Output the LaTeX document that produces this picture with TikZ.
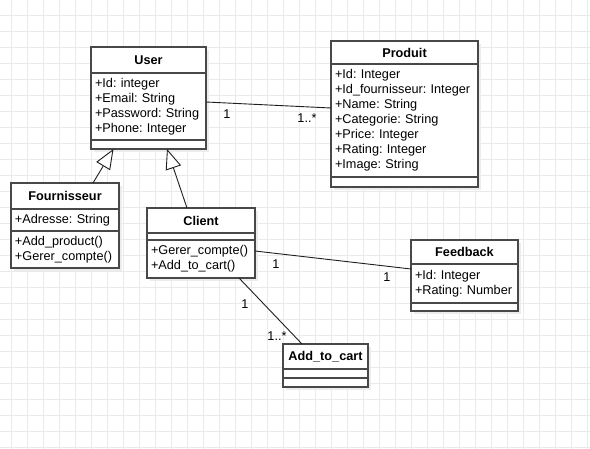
\documentclass[tikz,border=0pt]{standalone}
\usepackage{fontspec}
\setmainfont{Liberation Sans}
\usepackage{tikz}
\usetikzlibrary{
  arrows.meta,
  positioning,
  shadows
}
\definecolor{boxline}{RGB}{72, 72, 72}
\definecolor{gridcolor}{RGB}{234, 234, 234}
\definecolor{shadowcolor}{RGB}{236, 236, 236}
\definecolor{linkcolor}{RGB}{30, 30, 30}
\newcommand{\umlfont}{\fontsize{12.7}{15}\selectfont}
\newcommand{\bodyfont}{\umlfont\hyphenpenalty=10000\relax}
\frenchspacing
\tikzset{
compart/.style={
  draw=boxline,
  line width=1.2pt,
  fill=white,
  rectangle,
  inner sep=0pt,
  outer sep=0pt,
  drop shadow={shadow xshift=3pt, shadow yshift=-3pt, fill=shadowcolor, opacity=1}
},
classhead/.style={
  compart,
  minimum width=#1,
  font=\umlfont\bfseries,
  align=center
},
classbody/.style={
  compart,
  inner xsep=4pt,
  text width=#1,
  font=\bodyfont,
  align=left
},
gridline/.style={
  draw=gridcolor,
  line width=1pt
},
assoc/.style={
  draw=linkcolor,
  line width=0.9pt
},
inherit/.style={
  draw=linkcolor,
  line width=0.9pt,
  -{Triangle[length=20pt, width=16pt, fill=white]}
},
mult/.style={
  font=\umlfont,
  inner sep=0pt
}
}

\begin{document}
\begin{tikzpicture}[x=1pt, y=-1pt]
  \useasboundingbox (0,0) rectangle (590,449);

  % Background grid
  \foreach \gx in {0,...,36}
    \draw[gridline] (11.5+16*\gx,0) -- (11.5+16*\gx,449);
  \foreach \gy in {1,...,28}
    \draw[gridline] (0,16*\gy) -- (590,16*\gy);

  % User
  \node[classhead=115pt, minimum height=26pt, anchor=north] (userhead) at (148.5,47) {User};
  \node[classbody=107pt, minimum height=67pt, below=0pt of userhead] (userattr)
    {+Id: integer\\+Email: String\\+Password: String\\+Phone: Integer};
  \node[classbody=107pt, minimum height=9pt, below=0pt of userattr] (userops) {};

  % Produit
  \node[classhead=147pt, minimum height=23pt, anchor=north] (prodhead) at (404.5,41) {Produit};
  \node[classbody=139pt, minimum height=113pt, below=0pt of prodhead] (prodattr)
    {+Id: Integer\\+Id\_fournisseur: Integer\\+Name: String\\+Categorie: String\\+Price: Integer\\+Rating: Integer\\+Image: String};
  \node[classbody=139pt, minimum height=10pt, below=0pt of prodattr] (prodops) {};

  % Fournisseur
  \node[classhead=108pt, minimum height=26pt, anchor=north] (fourhead) at (65,183) {Fournisseur};
  \node[classbody=100pt, minimum height=22pt, below=0pt of fourhead] (fourattr)
    {+Adresse: String};
  \node[classbody=100pt, minimum height=37pt, below=0pt of fourattr] (fourops)
    {+Add\_product()\\+Gerer\_compte()};

  % Client
  \node[classhead=108pt, minimum height=25pt, anchor=north] (clienthead) at (201,208) {Client};
  \node[classbody=100pt, minimum height=7pt, below=0pt of clienthead] (clientattr) {};
  \node[classbody=100pt, minimum height=38pt, below=0pt of clientattr] (clientops)
    {+Gerer\_compte()\\+Add\_to\_cart()};

  % Feedback
  \node[classhead=107pt, minimum height=24pt, anchor=north] (feedhead) at (464.5,240) {Feedback};
  \node[classbody=99pt, minimum height=39pt, below=0pt of feedhead] (feedattr)
    {+Id: Integer\\+Rating: Number};
  \node[classbody=99pt, minimum height=8pt, below=0pt of feedattr] (feedops) {};

  % Add_to_cart
  \node[classhead=85pt, minimum height=25pt, anchor=north] (carthead) at (325.5,344) {Add\_to\_cart};
  \node[classbody=77pt, minimum height=9pt, below=0pt of carthead] (cartattr) {};
  \node[classbody=77pt, minimum height=9pt, below=0pt of cartattr] (cartops) {};

  % Generalization
  \draw[inherit] ([xshift=28pt]fourhead.north) -- ([xshift=-35pt]userops.south);
  \draw[inherit] ([xshift=-14pt]clienthead.north) -- ([xshift=18.5pt]userops.south);

  % Associations
  \draw[assoc] ([yshift=4.5pt]userattr.east) -- ([yshift=12.5pt]prodattr.west);
  \draw[assoc] ([yshift=8pt]clientops.east) -- ([yshift=14.5pt]feedattr.west);
  \draw[assoc] ([xshift=38pt]clientops.south) -- ([xshift=-23.5pt]carthead.north);

  % Multiplicities
  \node[mult] (m1) at (227,114) {1};
  \node[mult] (m2) at (307,118) {1..*};
  \node[mult] (m3) at (276,264) {1};
  \node[mult] (m4) at (387,277) {1};
  \node[mult] (m5) at (245,304) {1};
  \node[mult] (m6) at (277,336) {1..*};
\end{tikzpicture}
\end{document}
